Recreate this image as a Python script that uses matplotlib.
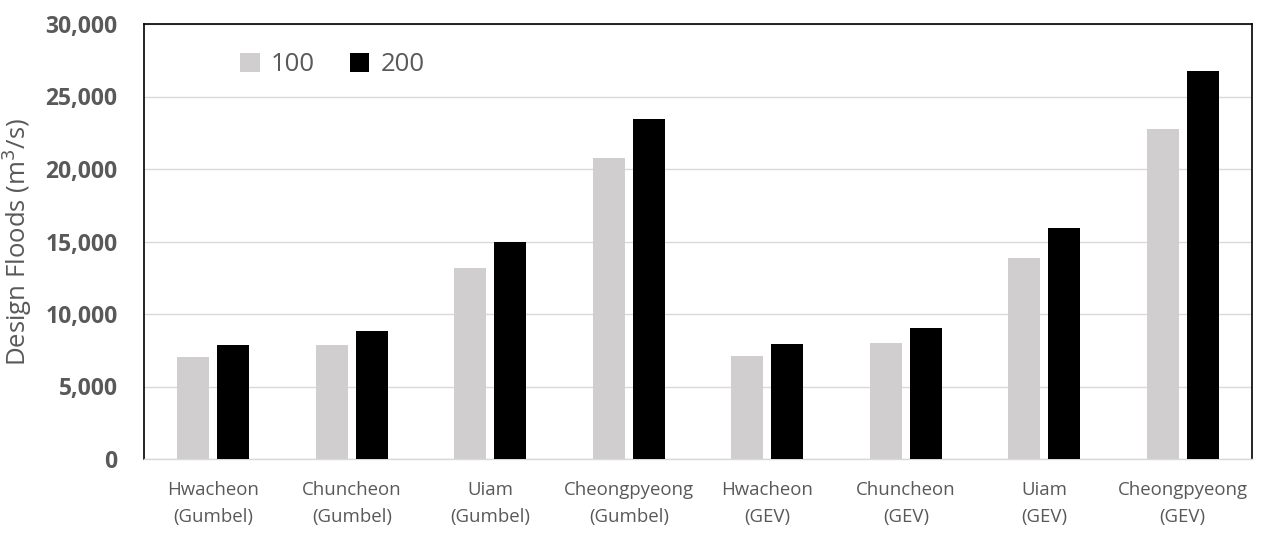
import matplotlib
matplotlib.use("Agg")
import matplotlib.pyplot as plt
import numpy as np

categories = ["Hwacheon\n(Gumbel)", "Chuncheon\n(Gumbel)", "Uiam\n(Gumbel)", "Cheongpyeong\n(Gumbel)",
              "Hwacheon\n(GEV)", "Chuncheon\n(GEV)", "Uiam\n(GEV)", "Cheongpyeong\n(GEV)"]
series_names = ["100", "200"]
vals_100 = [7050, 7850, 13200, 20750, 7100, 8000, 13850, 22750]
vals_200 = [7850, 8850, 14950, 23450, 7900, 9050, 15950, 26750]
yticks = [0, 5000, 10000, 15000, 20000, 25000, 30000]

plt.rcParams['font.family'] = ['Open Sans', 'DejaVu Sans']

fig = plt.figure(figsize=(12.71, 5.35), dpi=100)
ax = fig.add_axes([144/1271, 1 - 459/535, (1252-144)/1271, (459-24)/535])

x = np.arange(len(categories))
w = 0.23
off = 0.145
ax.bar(x - off, vals_100, width=w, color="#d0cece", label=series_names[0], zorder=3)
ax.bar(x + off, vals_200, width=w, color="#000000", label=series_names[1], zorder=3)

ax.set_xlim(-0.5, len(categories) - 0.5)
ax.set_ylim(0, 30000)
ax.set_yticks(yticks)
ax.set_yticklabels([f"{v:,}" for v in yticks], fontsize=16.5, fontweight="bold", color="#595959")
ax.set_xticks(x)
ax.set_xticklabels(categories, fontsize=13.4, color="#595959", linespacing=1.6)
ax.tick_params(axis="both", length=0)
ax.tick_params(axis="y", pad=19)
ax.tick_params(axis="x", pad=16)
ax.grid(axis="y", color="#d9d9d9", linewidth=1, zorder=0)
for s in ["left", "top", "right"]:
    ax.spines[s].set_color("black")
    ax.spines[s].set_linewidth(1.2)
ax.spines["bottom"].set_color("#d9d9d9")
ax.spines["bottom"].set_linewidth(1)

ax.set_ylabel("Design Floods (m$^3$/s)", fontsize=18.5, color="#595959", labelpad=8)

leg = ax.legend(loc="upper left", bbox_to_anchor=(0.066, 0.988), ncol=2, frameon=False,
                fontsize=18.5, handlelength=0.75, handleheight=0.75, handletextpad=0.45,
                columnspacing=1.35)
for t in leg.get_texts():
    t.set_color("#595959")

fig.savefig("out.png", dpi=100)
